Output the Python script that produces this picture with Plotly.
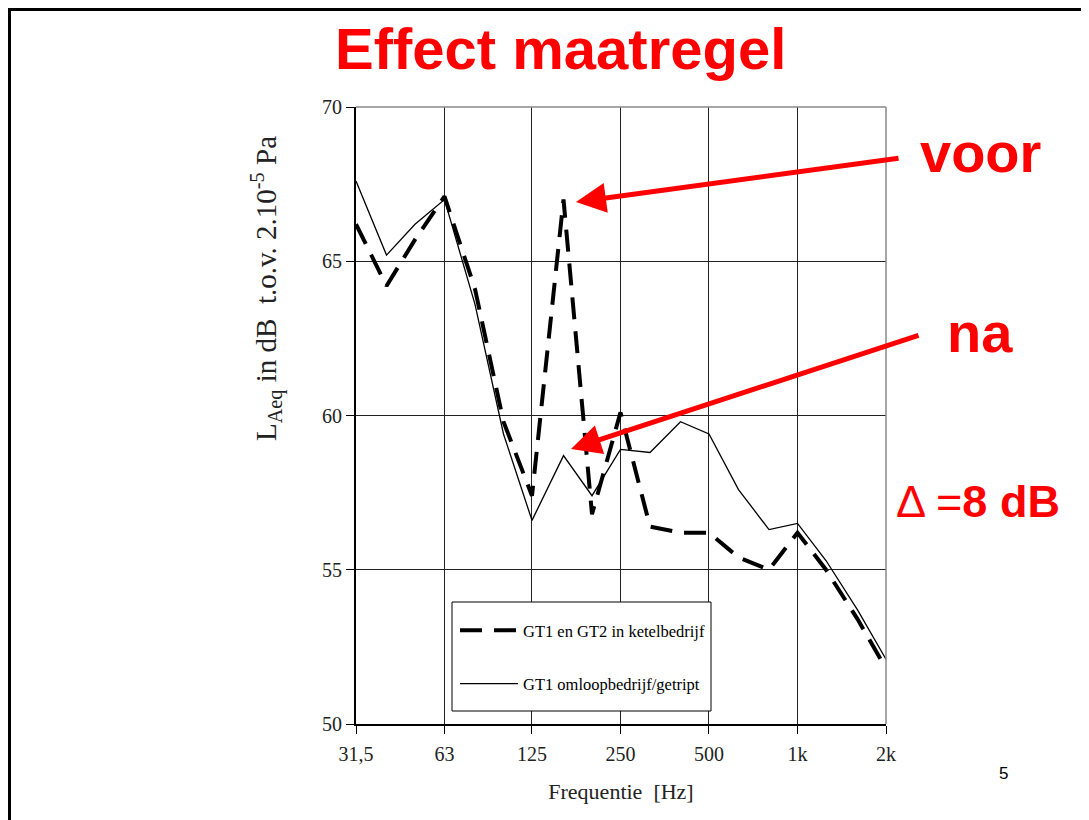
import plotly.graph_objects as go
import math

# ---- data ----
freqs = [31.5, 40, 50, 63, 80, 100, 125, 160, 200, 250, 315, 400, 500, 630, 800, 1000, 1250, 1600, 2000]
voor = [66.2, 64.2, 65.7, 67.1, 64.1, 59.8, 57.4, 67.0, 56.8, 60.1, 56.4, 56.2, 56.2, 55.4, 55.0, 56.2, 55.0, 53.4, 51.8]
na = [67.6, 65.2, 66.2, 67.0, 63.6, 59.4, 56.6, 58.7, 57.4, 58.9, 58.8, 59.8, 59.4, 57.6, 56.3, 56.5, 55.3, 53.7, 52.1]
name_voor = "GT1 en GT2 in ketelbedrijf"
name_na = "GT1 omloopbedrijf/getript"
xtick_vals = [31.5, 63, 125, 250, 500, 1000, 2000]
xtick_text = ["31,5", "63", "125", "250", "500", "1k", "2k"]
ytick_vals = [50, 55, 60, 65, 70]

OFF = 8  # page body margin
W, H = 1089 - OFF, 820 - OFF
L, R, T, B = 356, 886, 107, 724  # screen pixels of plot area


def px(x):
    return (x - L) / (R - L)


def py(y):
    return (B - y) / (B - T)


fig = go.Figure()
fig.add_trace(go.Scatter(x=freqs, y=voor, mode="lines", name=name_voor,
                         line=dict(color="black", width=4, dash="22px,12px"),
                         legendgroup="a"))
fig.add_trace(go.Scatter(x=freqs, y=na, mode="lines", name=name_na,
                         line=dict(color="black", width=1.3),
                         legendgroup="b"))

serif = "Liberation Serif, Times New Roman, serif"
sans = "Liberation Sans, Arial, sans-serif"
red = "#ff0000"
txt = "#222"

fig.update_layout(
    width=W, height=H,
    margin=dict(l=L - OFF, r=W - (R - OFF), t=T - OFF, b=H - (B - OFF)),
    paper_bgcolor="white", plot_bgcolor="white",
    showlegend=True,
    legend=dict(x=px(455), y=py(613), xanchor="left", yanchor="top",
                bgcolor="rgba(0,0,0,0)", borderwidth=0,
                font=dict(family=serif, size=16.5, color="black"),
                tracegroupgap=29, itemwidth=58),
    xaxis=dict(type="log", range=[math.log10(31.5), math.log10(2000)],
               tickvals=xtick_vals, ticktext=xtick_text,
               showgrid=True, gridcolor="#222", gridwidth=1,
               showline=True, linecolor="black", linewidth=2,
               ticks="outside", ticklen=8, tickcolor="black",
               ticklabelstandoff=3,
               tickfont=dict(family=serif, size=20, color=txt),
               title=dict(text="Frequentie\u00a0\u00a0[Hz]",
                          font=dict(family=serif, size=22, color=txt),
                          standoff=20),
               zeroline=False),
    yaxis=dict(range=[50, 70], tickvals=ytick_vals,
               showgrid=True, gridcolor="#222", gridwidth=1,
               showline=True, linecolor="black", linewidth=2,
               ticks="outside", ticklen=8, tickcolor="black",
               tickfont=dict(family=serif, size=20, color=txt),
               zeroline=False),
)

# plot frame (top/right in grey)
fig.add_shape(type="line", xref="paper", yref="paper", x0=0, x1=1, y0=1, y1=1,
              line=dict(color="#888", width=1.5))
fig.add_shape(type="line", xref="paper", yref="paper", x0=1, x1=1, y0=0, y1=1,
              line=dict(color="#888", width=1.5))
# legend box
fig.add_shape(type="rect", xref="paper", yref="paper", x0=px(452), x1=px(711), y0=py(711), y1=py(602),
              fillcolor="white", line=dict(color="black", width=1), layer="above")

# slide border
fig.add_shape(type="line", xref="paper", yref="paper", x0=px(9), x1=px(1100), y0=py(9.5), y1=py(9.5),
              line=dict(color="black", width=3))
fig.add_shape(type="line", xref="paper", yref="paper", x0=px(9.5), x1=px(9.5), y0=py(8), y1=py(830),
              line=dict(color="black", width=3))

ann = []
# y-axis title
ann.append(dict(text="L<sub>Aeq</sub> in dB\u00a0\u00a0t.o.v. 2.10<sup>-5</sup> Pa",
                x=px(266), y=py(289), xref="paper", yref="paper", textangle=-90,
                showarrow=False, xanchor="center", yanchor="middle",
                font=dict(family=serif, size=29, color=txt)))
# title
ann.append(dict(text="<b>Effect maatregel</b>", x=px(560), y=py(48), xref="paper", yref="paper",
                showarrow=False, xanchor="center", yanchor="middle",
                font=dict(family=sans, size=58, color=red)))
ann.append(dict(text="<b>voor</b>", x=px(980), y=py(152), xref="paper", yref="paper",
                showarrow=False, xanchor="center", yanchor="middle",
                font=dict(family=sans, size=56, color=red)))
ann.append(dict(text="<b>na</b>", x=px(980), y=py(332), xref="paper", yref="paper",
                showarrow=False, xanchor="center", yanchor="middle",
                font=dict(family=sans, size=56, color=red)))
ann.append(dict(text="\u0394 =<b>8 dB</b>", x=px(978), y=py(502), xref="paper", yref="paper",
                showarrow=False, xanchor="center", yanchor="middle",
                font=dict(family=sans, size=45, color=red)))
ann.append(dict(text="5", x=px(1003), y=py(773), xref="paper", yref="paper",
                showarrow=False, xanchor="center", yanchor="middle",
                font=dict(family=sans, size=17, color="black")))
# arrows
ann.append(dict(text="", x=px(576), y=py(202), xref="paper", yref="paper",
                ax=900 - 576, ay=158 - 202, showarrow=True, arrowhead=2, arrowsize=1.2,
                arrowwidth=5, arrowcolor=red))
ann.append(dict(text="", x=px(571), y=py(449), xref="paper", yref="paper",
                ax=920 - 571, ay=335 - 449, showarrow=True, arrowhead=2, arrowsize=1.2,
                arrowwidth=5, arrowcolor=red))
fig.update_layout(annotations=ann)

fig.write_html("out.html")
